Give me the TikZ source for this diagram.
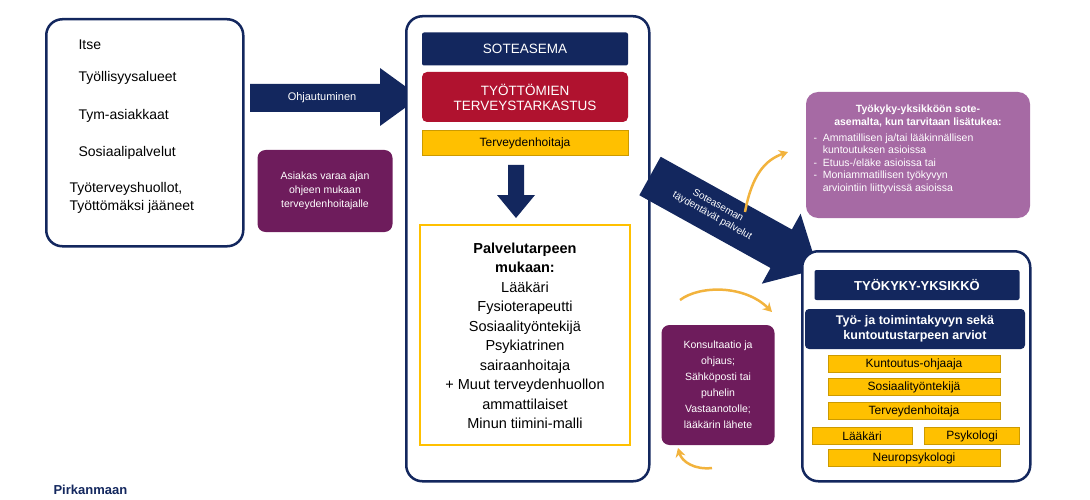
\documentclass[tikz,border=0pt]{standalone}
\usepackage{fontspec}
\setmainfont{Liberation Sans}
\usetikzlibrary{arrows.meta,shapes.arrows}
\definecolor{navy}{HTML}{13275E}
\definecolor{crim}{HTML}{B0122F}
\definecolor{yel}{HTML}{FFC000}
\definecolor{dpur}{HTML}{6E1C5C}
\definecolor{lpur}{HTML}{A66AA4}
\definecolor{curv}{HTML}{F2B33D}
\begin{document}
\begin{tikzpicture}[x=1pt,y=-1pt,
  frame/.style={draw=navy,line width=2.5pt,rounded corners=16pt,fill=white},
  bar/.style={fill=navy,text=white,font=\fontsize{13.5}{15}\selectfont,inner sep=0pt},
  ybar/.style={fill=yel,draw=yel!80!black,line width=0.3pt,font=\fontsize{12}{13}\selectfont,inner sep=0pt},
  pbox/.style={fill=dpur,text=white,rounded corners=8pt,align=center,font=\fontsize{10.5}{14}\selectfont,inner sep=0pt},
  lt/.style={anchor=west,font=\fontsize{14}{18}\selectfont},
  curved/.style={draw=curv,line width=2.5pt,-{Stealth[length=9pt,width=10pt]}}]
\useasboundingbox (0,0) rectangle (1090,500);
% left box
\node[frame,minimum width=197pt,minimum height=227pt,anchor=north west] (L) at (45,18) {};
\node[lt] (l1) at (75,45) {Itse};
\node[lt] (l2) at (75,78) {Työllisyysalueet};
\node[lt] (l3) at (75,116) {Tym-asiakkaat};
\node[lt] (l4) at (75,153) {Sosiaalipalvelut};
\node[lt,align=left] (l5) at (66,198) {Työterveyshuollot,\\Työttömäksi jääneet};
% ohjautuminen arrow
\fill[navy] (250,84) -- (380,84) -- (380,68) -- (420,97) -- (380,126) -- (380,112) -- (250,112) -- cycle;
\node[text=white,font=\fontsize{11}{12}\selectfont] (oh) at (322,98) {Ohjautuminen};
\node[pbox,minimum width=135pt,minimum height=82pt] (as) at (325,191) {Asiakas varaa ajan\\ohjeen mukaan\\terveydenhoitajalle};
% center
\node[frame,minimum width=243pt,minimum height=465pt,anchor=north west] (C) at (405,15) {};
\node[bar,minimum width=206pt,minimum height=33pt,rounded corners=2pt] (so) at (525,49) {SOTEASEMA};
\node[fill=crim,text=white,rounded corners=5pt,minimum width=206pt,minimum height=50pt,align=center,font=\fontsize{13.5}{15}\selectfont,inner sep=0pt] (tt) at (525,97) {TYÖTTÖMIEN\\TERVEYSTARKASTUS};
\node[ybar,minimum width=206pt,minimum height=25pt] (th) at (525,143) {Terveydenhoitaja};
\fill[navy] (508,165) -- (524,165) -- (524,195) -- (535,195) -- (516,218) -- (497,195) -- (508,195) -- cycle;
\node[draw=yel,line width=2pt,fill=white,minimum width=210pt,minimum height=220pt] (pt) at (525,335) {};
\node[align=center,font=\fontsize{14.5}{19.5}\selectfont] (ptt) at (525,336) {\textbf{Palvelutarpeen}\\\textbf{mukaan:}\\Lääkäri\\Fysioterapeutti\\Sosiaalityöntekijä\\Psykiatrinen\\sairaanhoitaja\\+ Muut terveydenhuollon\\ammattilaiset\\Minun tiimini-malli};
% right purple top
\node[fill=lpur,text=white,rounded corners=12pt,minimum width=224pt,minimum height=126pt,inner sep=0pt] (rp) at (918,155) {};
\node[text=white,font=\bfseries\fontsize{10.5}{13}\selectfont,align=center] (rpt1) at (918,116) {Työkyky-yksikköön sote-\\asemalta, kun tarvitaan lisätukea:};
\node[text=white,font=\fontsize{10.5}{12.5}\selectfont,align=left,anchor=north west] (rpt2) at (810,130) {-\ \ Ammatillisen ja/tai lääkinnällisen\\\phantom{-}\ \ kuntoutuksen asioissa\\-\ \ Etuus-/eläke asioissa tai\\-\ \ Moniammatillisen työkyvyn\\\phantom{-}\ \ arviointiin liittyvissä asioissa};
% diagonal arrow
\begin{scope}[shift={(650,176)},rotate=-29]
\fill[navy] (0,-22) -- (150,-22) -- (150,-40) -- (192,0) -- (150,40) -- (150,22) -- (0,22) -- cycle;
\end{scope}
\node[text=white,rotate=-29,align=center,font=\fontsize{10}{12}\selectfont] (dt) at (715,211) {Soteaseman\\täydentävät palvelut};
% curved arrows
\draw[curved] (745,212) .. controls (752,175) and (765,160) .. (788,152);
\draw[curved] (680,300) .. controls (700,285) and (745,285) .. (772,312);
\draw[curved] (712,468) .. controls (695,470) and (682,462) .. (678,448);
% konsultaatio
\node[pbox,minimum width=113pt,minimum height=120pt,font=\fontsize{10.5}{16}\selectfont] (ko) at (718,385) {Konsultaatio ja\\ohjaus;\\Sähköposti tai\\puhelin\\Vastaanotolle;\\lääkärin lähete};
% right box
\node[frame,minimum width=228pt,minimum height=230pt,anchor=north west] (R) at (801,250) {};
\node[bar,minimum width=205pt,minimum height=30pt,rounded corners=2pt,font=\bfseries\fontsize{13}{15}\selectfont] (ty) at (917,285) {TYÖKYKY-YKSIKKÖ};
\node[bar,minimum width=220pt,minimum height=40pt,align=center,rounded corners=4pt,font=\bfseries\fontsize{12.5}{15}\selectfont] (ar) at (915,329) {Työ- ja toimintakyvyn sekä\\kuntoutustarpeen arviot};
\node[ybar,minimum width=172pt,minimum height=17pt] (y1) at (914,364) {Kuntoutus-ohjaaja};
\node[ybar,minimum width=172pt,minimum height=17pt] (y2) at (914,387) {Sosiaalityöntekijä};
\node[ybar,minimum width=172pt,minimum height=17pt] (y3) at (914,411) {Terveydenhoitaja};
\node[ybar,minimum width=100pt,minimum height=17pt] (y4) at (862,436) {Lääkäri};
\node[ybar,minimum width=95pt,minimum height=17pt] (y5) at (972,436) {Psykologi};
\node[ybar,minimum width=172pt,minimum height=17pt] (y6) at (914,458) {Neuropsykologi};
\node[anchor=west,text=navy,font=\bfseries\fontsize{13}{15}\selectfont] (pk) at (50,490) {Pirkanmaan};
\end{tikzpicture}
\end{document}
